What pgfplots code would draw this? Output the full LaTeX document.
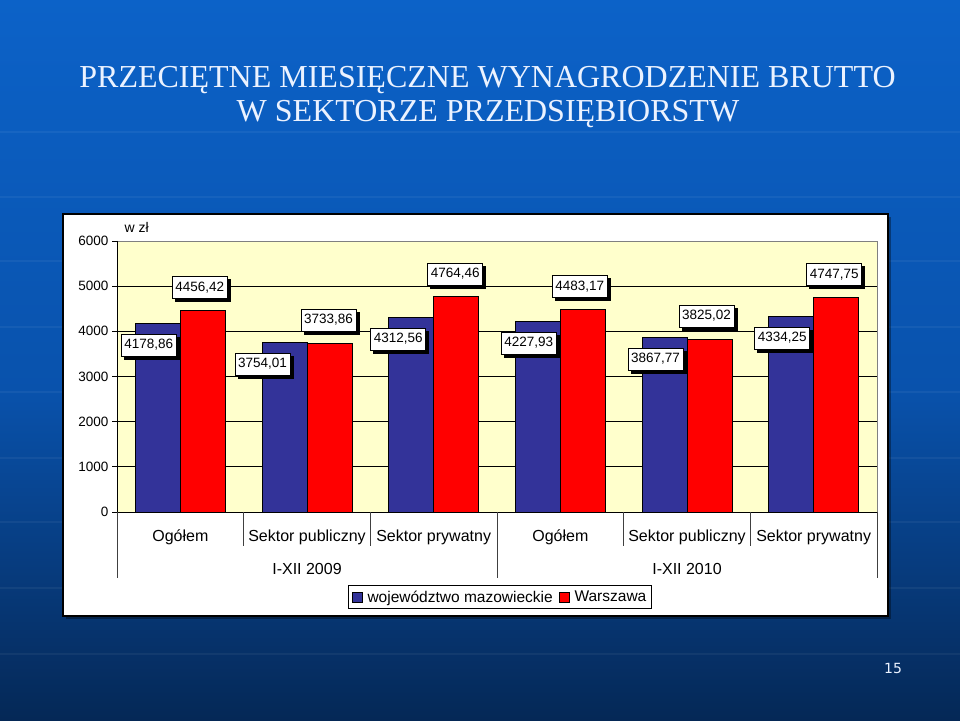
\documentclass[border=0pt]{standalone}
\usepackage{fontspec}
\setmainfont{Liberation Sans}
\newfontfamily\titlefont{Liberation Serif}
\newfontfamily\pagefont{DejaVu Sans}
\usepackage{pgfplots}
\usepackage{pgfplotstable}
\pgfplotsset{compat=1.18}
\usetikzlibrary{shadows}

\definecolor{bgtop}{RGB}{12,98,200}
\definecolor{bgmid}{RGB}{9,82,172}
\definecolor{bgbot}{RGB}{5,40,86}
\definecolor{titlecol}{RGB}{235,242,255}
\definecolor{plotbg}{RGB}{255,255,204}
\definecolor{mazblue}{RGB}{51,51,153}
\definecolor{warred}{RGB}{255,0,0}

% wojewodztwo mazowieckie
\pgfplotstableread{
x y dx lbl
0 4178.86 -9 4178,86
1 3754.01 -22 3754,01
2 4312.56 -13 4312,56
3 4227.93 -9 4227,93
4 3867.77 -9 3867,77
5 4334.25 -9 4334,25
}\mazow
% Warszawa
\pgfplotstableread{
x y dx lbl
0 4456.42 -3 4456,42
1 3733.86 -1 3733,86
2 4764.46 -1 4764,46
3 4483.17 -3 4483,17
4 3825.02 -3 3825,02
5 4747.75 -2 4747,75
}\warsz

\begin{document}
\begin{tikzpicture}[x=1pt,y=1pt]
\useasboundingbox (0,0) rectangle (960,720);
% slide background
\shade[top color=bgtop, bottom color=bgmid] (0,330) rectangle (960,720);
\shade[top color=bgmid, bottom color=bgbot] (0,0) rectangle (960,330.5);
\foreach \yy in {132,197,261,327,392,458,522,588,654}
  \draw[white, opacity=0.05, line width=1.5pt] (0,720-\yy) -- (960,720-\yy);

% title
\node[anchor=base, text=titlecol, font=\titlefont\fontsize{32}{36}\selectfont, inner sep=0pt]
  at (487.5,632) {PRZECIĘTNE MIESIĘCZNE WYNAGRODZENIE BRUTTO};
\node[anchor=base, text=titlecol, font=\titlefont\fontsize{32}{36}\selectfont, inner sep=0pt]
  at (488,598) {W SEKTORZE PRZEDSIĘBIORSTW};

% white chart panel
\fill[black, opacity=0.35] (66,101) rectangle (891,503);
\draw[black, line width=1.2pt, fill=white] (63,104) rectangle (888,506);

\begin{axis}[
  at={(117pt,208pt)}, anchor=south west,
  width=760pt, height=271pt, scale only axis,
  clip=false,
  ybar=0pt, bar width=45pt,
  xmin=-0.5, xmax=5.5, ymin=0, ymax=6000,
  xtick={0,...,5},
  xticklabels={Ogółem,Sektor publiczny,Sektor prywatny,Ogółem,Sektor publiczny,Sektor prywatny},
  x tick style={draw=none},
  xticklabel style={font=\fontsize{16}{18}\selectfont, anchor=base, yshift=-24pt},
  ytick={0,1000,...,6000},
  ytick pos=left, tick align=outside, major tick length=5pt,
  y tick style={black, line width=0.8pt},
  yticklabel style={font=\fontsize{13.5}{15}\selectfont},
  /pgf/number format/assume math mode=true,
  /pgf/number format/1000 sep={},
  scaled y ticks=false,
  axis background/.style={fill=plotbg},
  axis line style={draw=gray, line width=0.8pt},
  ymajorgrids, grid style={black, line width=0.9pt},
  nodes near coords,
  point meta=explicit symbolic,
  visualization depends on={\thisrow{dx} \as \dx},
  every node near coord/.append style={
    anchor=center, xshift=\dx pt,
    font=\fontsize{13.5}{15}\selectfont,
    fill=white, draw=black, line width=0.6pt,
    inner xsep=3pt, inner ysep=5pt, text height=9.5pt, text depth=2.5pt,
    drop shadow={shadow xshift=3pt, shadow yshift=-3pt, opacity=1, fill=black}},
  legend style={at={(0.504,-0.314)}, anchor=center, legend columns=2,
    draw=black, line width=0.8pt, fill=white, inner sep=3pt,
    font=\fontsize{15.5}{18}\selectfont,
    /tikz/every even column/.append style={column sep=4pt}},
  legend image code/.code={\draw[#1,/tikz/.cd,line width=0.8pt] (0pt,-5pt) rectangle (10pt,5pt);
    \path (13pt,0pt);},
]
\addplot[fill=mazblue, draw=black, line width=0.8pt,
  every node near coord/.append style={yshift=-22pt}]
  table[x=x, y=y, meta=lbl] {\mazow};
\addlegendentry{województwo mazowieckie}
\addplot[fill=warred, draw=black, line width=0.8pt,
  every node near coord/.append style={yshift=23pt}]
  table[x=x, y=y, meta=lbl] {\warsz};
\addlegendentry{Warszawa}

% axis lines and category separators
\draw[black, line width=0.9pt] (rel axis cs:0,1) -- (rel axis cs:0,0) -- (rel axis cs:1,0);
\draw[black!75, line width=1pt] (axis cs:0.5,0) -- ++(0pt,-34pt);
\draw[black!75, line width=1pt] (axis cs:1.5,0) -- ++(0pt,-34pt);
\draw[black!75, line width=1pt] (axis cs:3.5,0) -- ++(0pt,-34pt);
\draw[black!75, line width=1pt] (axis cs:4.5,0) -- ++(0pt,-34pt);
\draw[black!75, line width=1pt] (axis cs:-0.5,0) -- ++(0pt,-66pt);
\draw[black!75, line width=1pt] (axis cs:2.5,0) -- ++(0pt,-66pt);
\draw[black!75, line width=1pt] (axis cs:5.5,0) -- ++(0pt,-66pt);
\node[font=\fontsize{16}{18}\selectfont] at (axis cs:1,0) [yshift=-57pt] {I-XII 2009};
\node[font=\fontsize{16}{18}\selectfont] at (axis cs:4,0) [yshift=-57pt] {I-XII 2010};
\node[anchor=west, font=\fontsize{14}{16}\selectfont] at (rel axis cs:0,1) [xshift=4pt, yshift=14pt] {w zł};
\end{axis}

% slide number
\node[text=titlecol, font=\pagefont\fontsize{14}{16}\selectfont] at (893,52) {15};
\end{tikzpicture}
\end{document}
